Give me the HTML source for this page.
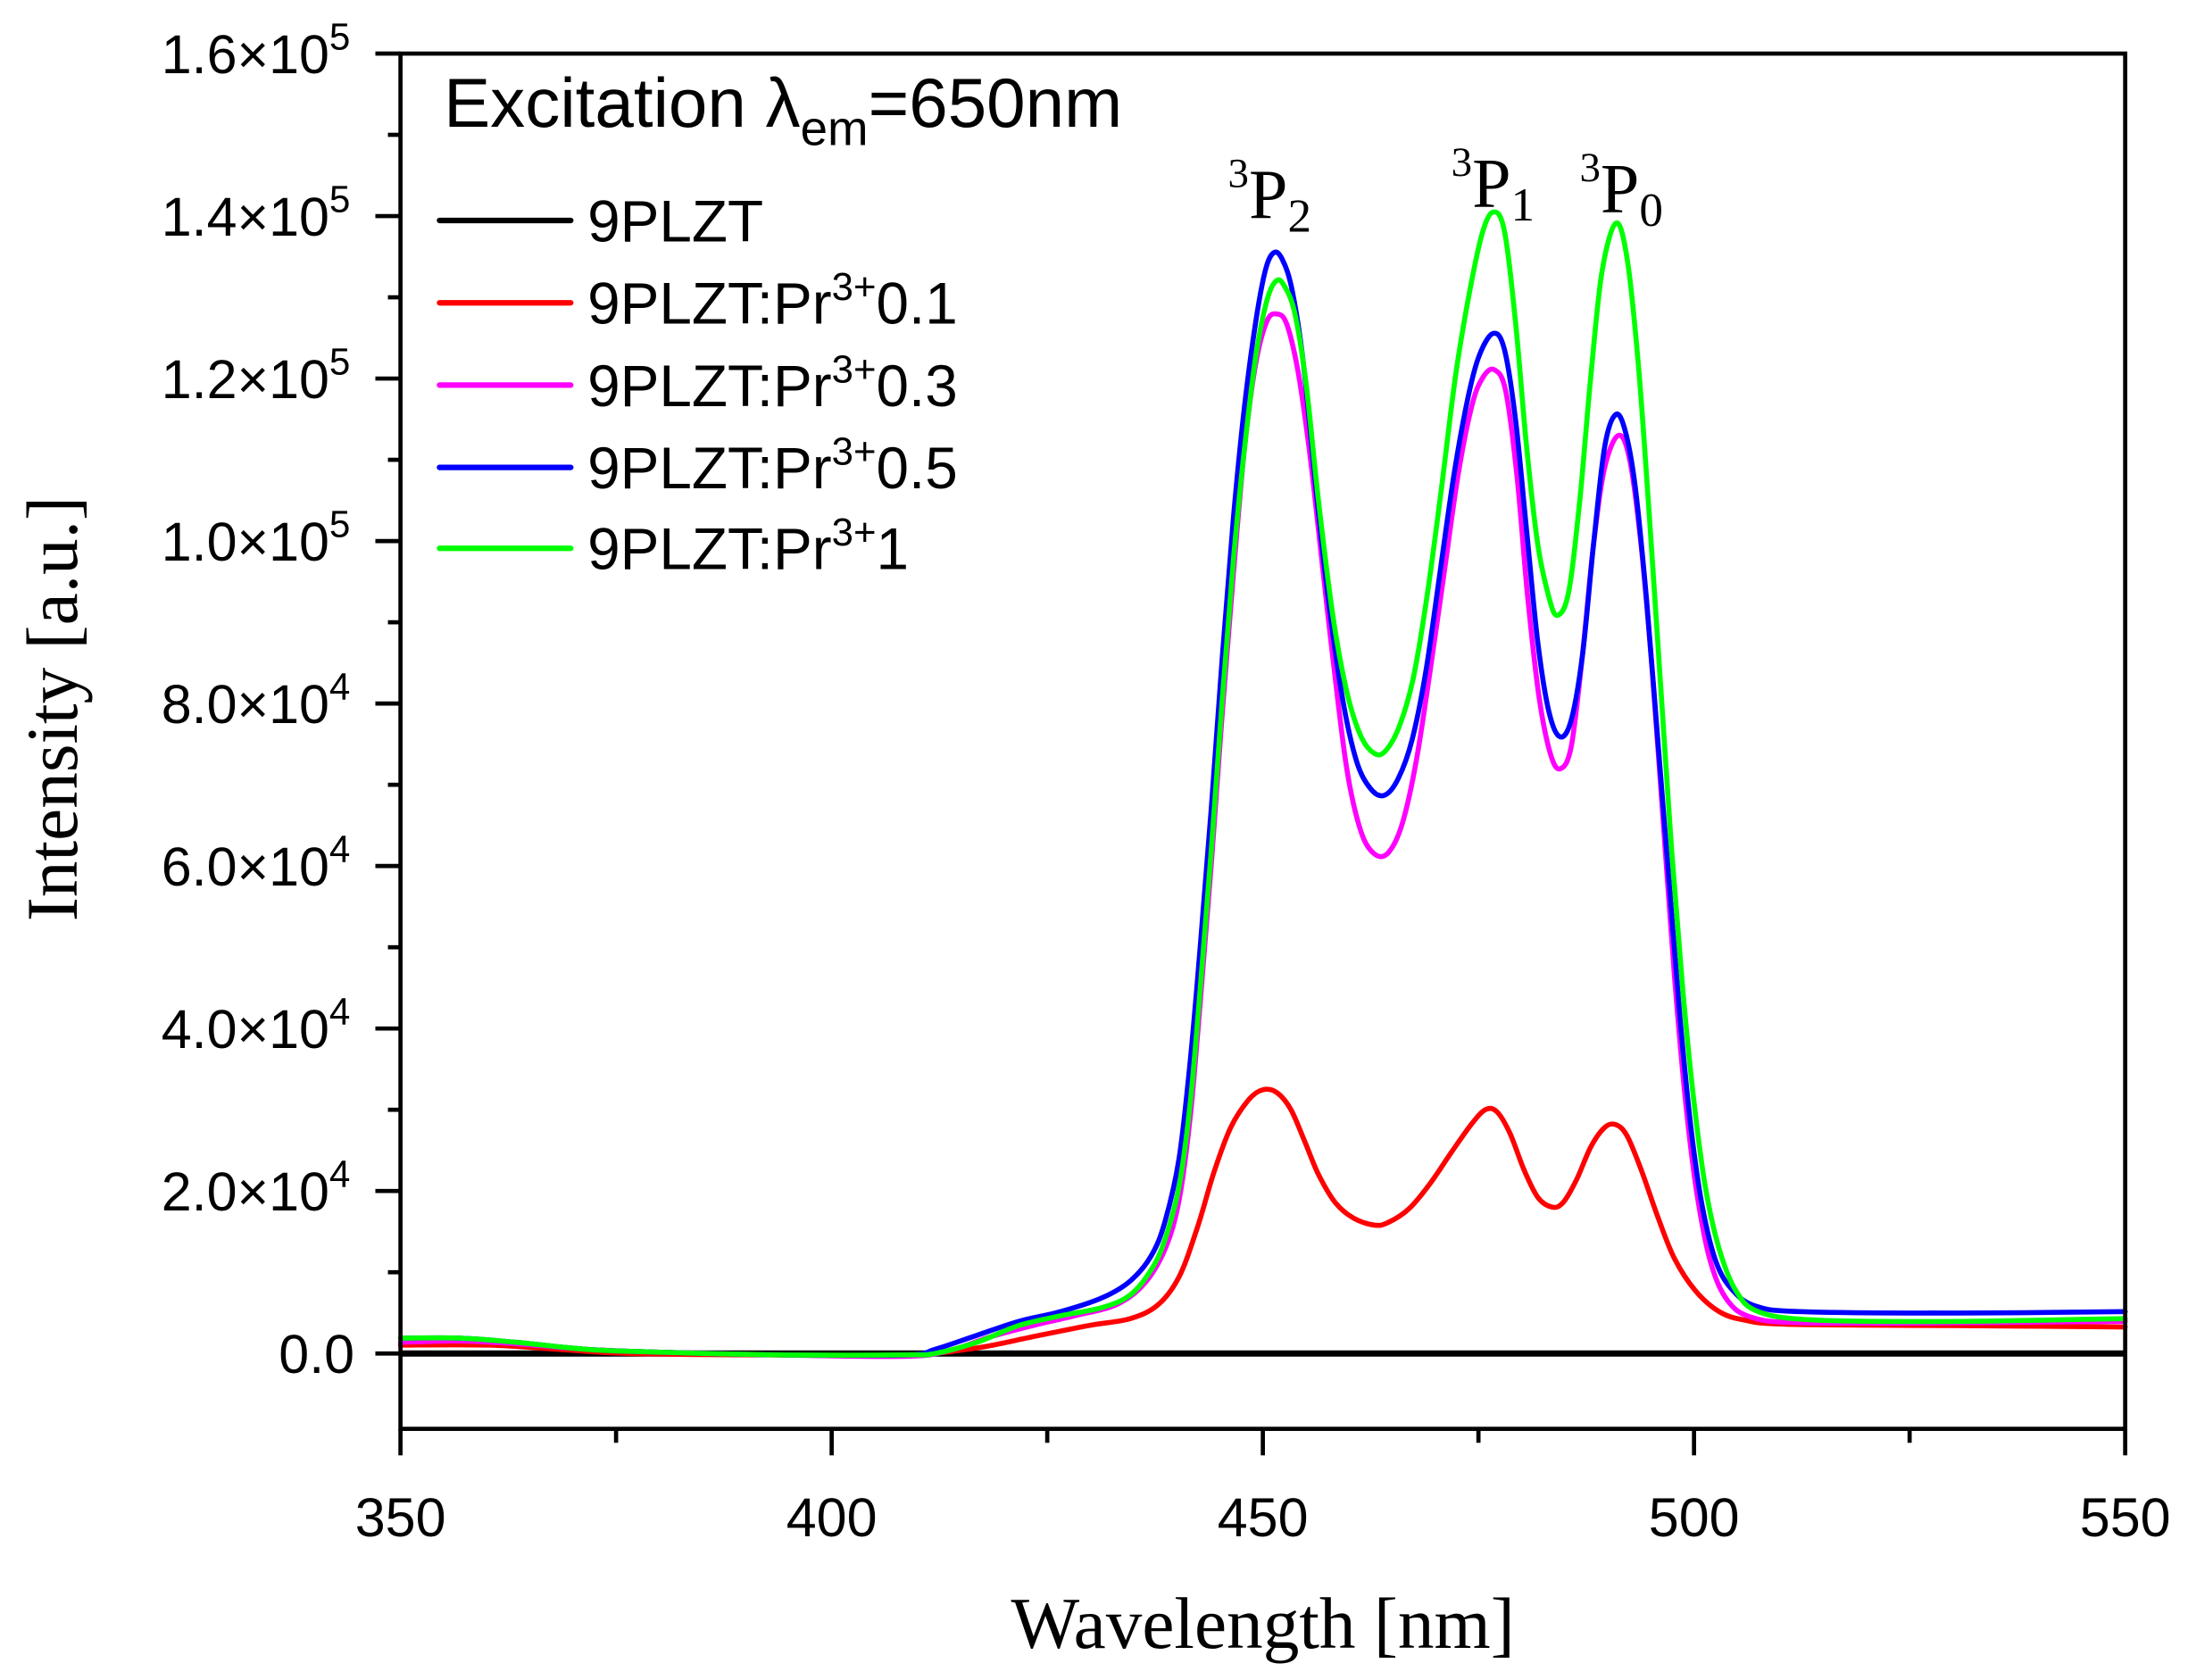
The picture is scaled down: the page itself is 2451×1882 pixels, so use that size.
<!DOCTYPE html>
<html><head><meta charset="utf-8"><style>
html,body{margin:0;padding:0;background:#fff;}
svg{display:block;}
.t{font-family:"Liberation Sans",sans-serif;}
.s{font-family:"Liberation Serif",serif;}
</style></head><body>
<svg id="c" width="2451" height="1882" viewBox="0 0 1568 1204" preserveAspectRatio="none" xmlns="http://www.w3.org/2000/svg">
<rect width="1568" height="1204" fill="#fff"/>
<g id="ticks" stroke="#000" stroke-width="3"></g>
<g id="curves" fill="none" stroke-width="3.6" stroke-linejoin="round" stroke-linecap="round"></g>
<rect x="287" y="38.4" width="1236" height="985.6" fill="none" stroke="#000" stroke-width="3"/>
<g id="labels" class="t" font-size="39" fill="#000"></g>
<text class="t" x="318" y="91" font-size="50">Excitation λ<tspan font-size="35" dy="13">em</tspan><tspan dy="-13">=650nm</tspan></text>
<g stroke-width="4" stroke-linecap="round">
<line x1="315" y1="158" x2="409" y2="158" stroke="#000"/>
<line x1="315" y1="217" x2="409" y2="217" stroke="#f00"/>
<line x1="315" y1="276" x2="409" y2="276" stroke="#f0f"/>
<line x1="315" y1="335" x2="409" y2="335" stroke="#00f"/>
<line x1="315" y1="393" x2="409" y2="393" stroke="#0f0"/>
</g>
<g class="t" font-size="42">
<text x="421" y="173">9PLZT</text>
<text x="421" y="232">9PLZT:Pr<tspan font-size="28" dy="-17">3+</tspan><tspan dy="17">0.1</tspan></text>
<text x="421" y="291">9PLZT:Pr<tspan font-size="28" dy="-17">3+</tspan><tspan dy="17">0.3</tspan></text>
<text x="421" y="350">9PLZT:Pr<tspan font-size="28" dy="-17">3+</tspan><tspan dy="17">0.5</tspan></text>
<text x="421" y="408">9PLZT:Pr<tspan font-size="28" dy="-17">3+</tspan><tspan dy="17">1</tspan></text>
</g>
<g class="s" font-size="50">
<text x="880" y="156"><tspan font-size="30" dy="-22">3</tspan><tspan dy="22">P</tspan><tspan font-size="34" dy="10">2</tspan></text>
<text x="1040" y="148"><tspan font-size="30" dy="-22">3</tspan><tspan dy="22">P</tspan><tspan font-size="34" dy="10">1</tspan></text>
<text x="1132" y="152"><tspan font-size="30" dy="-22">3</tspan><tspan dy="22">P</tspan><tspan font-size="34" dy="10">0</tspan></text>
</g>
<text class="s" font-size="52" x="905" y="1181" text-anchor="middle">Wavelength [nm]</text>
<text class="s" font-size="52" transform="translate(55,508) rotate(-90)" text-anchor="middle">Intensity [a.u.]</text>
</svg>
<script>
var NS="http://www.w3.org/2000/svg";
function el(p,t,a,txt){var e=document.createElementNS(NS,t);for(var k in a)e.setAttribute(k,a[k]);if(txt!=null)e.textContent=txt;p.appendChild(e);return e;}
var tk=document.getElementById('ticks'),lb=document.getElementById('labels');
var y0=970,dy=116.45;
for(var k=0;k<=8;k++){var y=y0-dy*k;el(tk,'line',{x1:269,y1:y,x2:287,y2:y});
 var t=el(lb,'text',{x:251,y:y+14,'text-anchor':'end'});
 if(k==0){t.textContent='0.0';t.setAttribute('x',254);}
 else{var v=(2*k);var m=v>=10?(v/10).toFixed(1):v.toFixed(1);var e=v>=10?5:4;
  t.textContent=m+'×10';el(t,'tspan',{'font-size':'27',dy:'-17'},String(e));}
 if(k<8){var ym=y-dy/2;el(tk,'line',{x1:278,y1:ym,x2:287,y2:ym});}}
for(var i=0;i<=8;i++){var x=287+i*154.5;var maj=i%2==0;el(tk,'line',{x1:x,y1:1024,x2:x,y2:maj?1043:1034});
 if(maj)el(lb,'text',{x:x,y:1101,'text-anchor':'middle'},String(350+i*25));}
function path(pts){var s='M'+pts[0][0]+','+pts[0][1];for(var i=0;i<pts.length-1;i++){var p0=pts[i-1]||pts[i],p1=pts[i],p2=pts[i+1],p3=pts[i+2]||p2;
 var c1x=p1[0]+(p2[0]-p0[0])/6,c1y=p1[1]+(p2[1]-p0[1])/6,c2x=p2[0]-(p3[0]-p1[0])/6,c2y=p2[1]-(p3[1]-p1[1])/6;
 s+=' C'+c1x.toFixed(1)+','+c1y.toFixed(1)+' '+c2x.toFixed(1)+','+c2y.toFixed(1)+' '+p2[0]+','+p2[1];}return s;}
function P(a){var r=[];for(var i=0;i<a.length;i+=2)r.push([a[i],a[i+1]]);return r;}
var red=P([287,964,350,964,400,967,450,970,550,971,650,971,700,966,740,958,780,950,810,945,830,935,845,915,858,880,870,840,882,808,895,788,905,781,915,783,925,795,935,818,945,842,957,862,970,873,985,878,995,876,1010,866,1025,848,1040,826,1055,805,1065,795,1073,797,1082,812,1092,838,1102,858,1112,865,1120,862,1130,845,1140,822,1150,808,1158,806,1166,814,1176,838,1188,872,1200,902,1215,925,1232,940,1250,946,1280,949,1400,950,1523,951]);
var mag=P([287,962,330,961,370,963,420,967,470,969,560,971,650,972,680,968,710,958,740,950,770,943,800,935,820,920,835,895,845,860,853,800,860,720,868,620,876,510,884,410,892,320,900,260,908,230,915,225,922,232,930,265,938,320,946,390,955,470,965,550,975,595,985,612,995,611,1005,590,1015,545,1025,480,1035,410,1045,340,1055,290,1063,270,1071,265,1079,280,1087,340,1095,430,1103,500,1111,540,1118,551,1126,535,1134,470,1142,390,1150,335,1160,312,1168,330,1176,390,1184,480,1192,590,1200,700,1208,790,1216,855,1226,905,1238,932,1255,944,1290,948,1400,948,1523,947]);
var blue=P([287,959,330,959,370,962,420,967,470,969,560,971,650,971,670,967,700,957,730,947,760,940,790,930,810,918,825,900,835,875,845,830,853,760,860,680,868,580,876,470,884,370,892,290,900,230,907,193,913,181,919,186,926,208,934,260,943,350,952,430,962,500,972,545,982,565,992,570,1002,558,1012,530,1022,480,1032,410,1042,340,1052,285,1060,255,1070,239,1078,250,1086,300,1094,380,1102,460,1110,510,1118,528,1126,516,1134,470,1142,390,1150,320,1158,297,1165,310,1172,350,1180,430,1188,530,1196,630,1204,730,1212,810,1220,865,1230,905,1242,925,1258,936,1290,940,1400,941,1523,940]);
var green=P([287,959,330,959,370,962,420,967,470,969,560,971,650,971,670,970,700,962,730,950,760,943,790,937,810,928,825,910,835,888,845,850,853,790,860,710,868,610,876,500,884,400,892,320,900,255,908,215,915,201,921,206,928,225,936,275,945,360,955,440,965,495,975,527,985,540,993,538,1003,520,1013,485,1023,425,1033,350,1043,270,1053,210,1062,168,1070,152,1078,165,1086,230,1094,320,1102,390,1110,428,1116,441,1124,425,1132,360,1140,270,1148,195,1158,160,1166,185,1174,260,1182,370,1190,490,1198,610,1206,710,1214,790,1222,850,1232,895,1244,925,1260,940,1300,946,1400,947,1523,945]);
var cg=document.getElementById('curves');
el(cg,'line',{x1:287,y1:970,x2:1523,y2:970,stroke:'#000','stroke-width':4.5,'stroke-linecap':'butt'});
[[red,'#f00'],[mag,'#f0f'],[blue,'#00f'],[green,'#0f0']].forEach(function(s){el(cg,'path',{d:path(s[0]),stroke:s[1]});});
</script>
</body></html>
